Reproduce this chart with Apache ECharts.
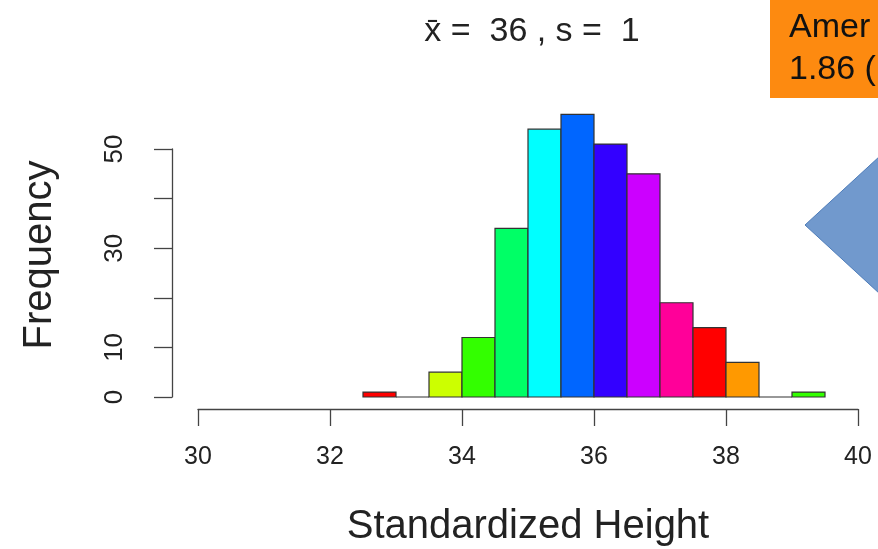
<!DOCTYPE html>
<html>
<head>
<meta charset="utf-8">
<script src="https://cdn.jsdelivr.net/npm/echarts@6/dist/echarts.min.js"></script>
<style>
html,body{margin:0;padding:0;background:#fff;}
#chart{width:878px;height:549px;}
</style>
</head>
<body>
<div id="chart"></div>
<script>
// ---- data ----
const binLower = [32.5, 33, 33.5, 34, 34.5, 35, 35.5, 36, 36.5, 37, 37.5, 38, 38.5, 39];
const binUpper = [33, 33.5, 34, 34.5, 35, 35.5, 36, 36.5, 37, 37.5, 38, 38.5, 39, 39.5];
const counts   = [1, 0, 5, 12, 34, 54, 57, 51, 45, 19, 14, 7, 0, 1];
const barColors = ['#FF0000','#FF9900','#CCFF00','#33FF00','#00FF66','#00FFFF','#0066FF','#3300FF','#CC00FF','#FF0099','#FF0000','#FF9900','#CCFF00','#33FF00'];
const xTicks = [30, 32, 34, 36, 38, 40];
const yTicks = [0, 10, 20, 30, 40, 50];
const yLabelsShown = [0, 10, 30, 50];
const titleText = 'x\u0304 =  36 , s =  1';
const xName = 'Standardized Height';
const yName = 'Frequency';
const boxLines = ['Amer', '1.86 ('];

const FONT = 'Liberation Sans, Arial, Helvetica, sans-serif';
const chart = echarts.init(document.getElementById('chart'));

const seriesData = binLower.map((lo, i) => [lo, binUpper[i], counts[i], i]);

const option = {
  animation: false,
  backgroundColor: '#ffffff',
  title: {
    text: titleText,
    left: 527,
    textAlign: 'center',
    top: 10,
    textStyle: { fontFamily: FONT, fontSize: 34, fontWeight: 'normal', color: '#222' }
  },
  grid: { left: 198, right: 20, top: 149, bottom: 152, containLabel: false },
  xAxis: {
    type: 'value',
    min: xTicks[0],
    max: xTicks[xTicks.length - 1],
    interval: 2,
    offset: 12,
    axisLine: { show: true, onZero: false, lineStyle: { color: '#444', width: 1.3 } },
    axisTick: { show: true, length: 17, lineStyle: { color: '#444', width: 1.3 } },
    axisLabel: { margin: 36, fontFamily: FONT, fontSize: 25, color: '#222' },
    splitLine: { show: false },
    name: xName,
    nameLocation: 'middle',
    nameGap: 98,
    nameTextStyle: { fontFamily: FONT, fontSize: 40, color: '#222' }
  },
  yAxis: {
    type: 'value',
    min: yTicks[0],
    max: yTicks[yTicks.length - 1],
    interval: 10,
    offset: 26,
    axisLine: { show: true, lineStyle: { color: '#444', width: 1.3 } },
    axisTick: { show: true, length: 18, lineStyle: { color: '#444', width: 1.3 } },
    axisLabel: {
      rotate: 90, margin: 44, fontFamily: FONT, fontSize: 26, color: '#222',
      formatter: v => (yLabelsShown.indexOf(v) >= 0 ? String(v) : '')
    },
    splitLine: { show: false },
    name: yName,
    nameLocation: 'middle',
    nameGap: 112,
    nameRotate: 90,
    nameTextStyle: { fontFamily: FONT, fontSize: 40, color: '#222', padding: [0, 0, 0, 36] }
  },
  series: [{
    type: 'custom',
    clip: false,
    data: seriesData,
    encode: { x: [0, 1], y: 2 },
    renderItem: function (params, api) {
      const p0 = api.coord([api.value(0), 0]);
      const p1 = api.coord([api.value(1), api.value(2)]);
      const idx = api.value(3);
      return {
        type: 'rect',
        shape: { x: p0[0], y: p1[1], width: p1[0] - p0[0], height: p0[1] - p1[1] },
        style: { fill: barColors[idx], stroke: '#333', lineWidth: 1.2 }
      };
    }
  }],
  graphic: [
    {
      type: 'polygon',
      shape: { points: [[805, 225], [880, 156], [880, 294]] },
      style: { fill: '#7199CD', stroke: '#4F7DB9', lineWidth: 1 }
    },
    {
      type: 'group',
      children: [
        { type: 'rect', shape: { x: 770, y: 0, width: 120, height: 98 }, style: { fill: '#FD8A10' } },
        { type: 'text', x: 789, y: 11, style: { text: boxLines[0], fontFamily: FONT, fontSize: 34, fill: '#111' } },
        { type: 'text', x: 789, y: 53, style: { text: boxLines[1], fontFamily: FONT, fontSize: 34, fill: '#111' } }
      ]
    }
  ]
};
chart.setOption(option);
</script>
</body>
</html>
